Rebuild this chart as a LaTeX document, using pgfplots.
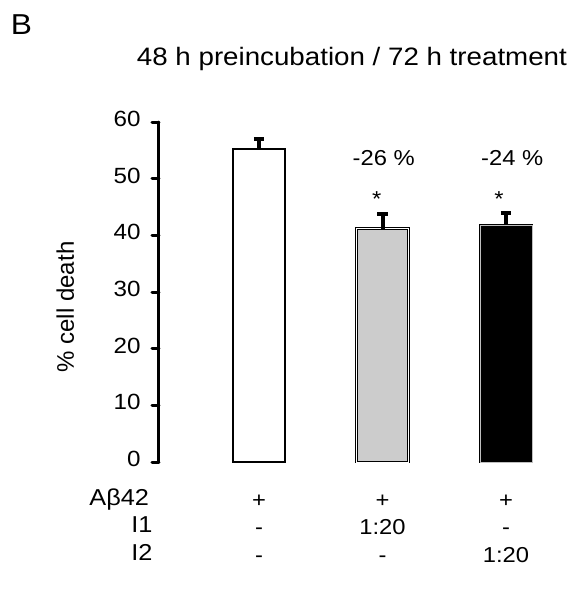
\documentclass[border=0pt]{standalone}
\usepackage{pgfplots}
\pgfplotsset{compat=1.18}
\usepackage{fontspec}
\setmainfont[FakeStretch=1.1]{Liberation Sans}
\newfontfamily\plainsans{Liberation Sans}
\newcommand\fs[1]{\fontsize{#1}{13.75pt}\selectfont}
\begin{document}
\begin{tikzpicture}
\path[use as bounding box] (0,0) rectangle (284.5pt,-294.5pt);
\begin{axis}[
 at={(79.5pt,-231pt)}, anchor=south west,
 scale only axis, width=204.4pt, height=170pt,
 xmin=-0.81, xmax=2.5, ymin=0, ymax=60,
 axis y line*=left, axis x line*=bottom,
 x axis line style={draw=none},
 y axis line style={line width=1.5pt, line cap=round},
 xtick={0,1,2}, xtick style={draw=none},
 xticklabels={{+\\-\\-},{+\\1:20\\-},{+\\-\\1:20}},
 xticklabel style={align=center, font=\fs{10.8pt}, anchor=north, inner sep=0pt, yshift=-12.8pt},
 ytick={0,10,...,60},
 ytick style={line width=1.5pt, black, line cap=round},
 tick align=outside, major tick length=3.5pt,
 yticklabel style={font=\fs{11pt}, xshift=-2.2pt, yshift=1.5pt},
 /pgf/number format/assume math mode=true,
 ylabel={\% cell death},
 ylabel style={font=\plainsans\fs{12pt}, at={(axis description cs:-0.229,0.456)}, anchor=center},
 title={48 h preincubation / 72 h treatment},
 title style={font=\fs{12.6pt}, at={(axis description cs:0.472,1.1676)}, anchor=base, yshift=-6pt},
 clip=false,
 ybar, bar width=26pt,
]
% bars
\addplot[fill=white, draw=black, line width=1pt, bar shift=0pt]
  coordinates {(0,55.2)};
\addplot[fill=gray!40!white, draw=black, line width=0.5pt, double=white, double distance=0.4pt, bar shift=0pt]
  coordinates {(1,41.2)};
\addplot[fill=black, draw=black, line width=0.5pt, double=gray!50, double distance=0.4pt, bar shift=0pt]
  coordinates {(2,41.8)};
% error bars (upper only)
\addplot[draw=none, fill=none, bar shift=0pt,
  error bars/.cd, y dir=plus, y explicit,
  error bar style={draw=black, line width=2pt},
  error mark options={rotate=90, mark size=2.6pt, line width=2pt, draw=black}]
  coordinates {(0,55.2) +- (0,1.8) (1,41.2) +- (0,2.6) (2,41.8) +- (0,2.1)};
\node[font=\fs{10.8pt}, anchor=base] at (axis cs:1.01,52.4) {-26 \%};
\node[font=\fs{10.8pt}, anchor=base] at (axis cs:2.05,52.4) {-24 \%};
\node[font=\fs{10.8pt}, anchor=base] at (axis cs:0.953,45.1) {*};
\node[font=\fs{10.8pt}, anchor=base] at (axis cs:1.943,45.1) {*};
\end{axis}
\node[font=\fs{11.5pt}, anchor=base west, inner sep=0pt] at (44.5pt,-252.9pt) {Aβ42};
\node[font=\fs{11.5pt}, anchor=base west, inner sep=0pt] at (65.5pt,-266.4pt) {I1};
\node[font=\fs{11.5pt}, anchor=base west, inner sep=0pt] at (65.5pt,-280.4pt) {I2};
\node[font=\fs{14.4pt}, anchor=base west, inner sep=0pt] at (5.25pt,-17pt) {B};
\end{tikzpicture}
\end{document}
